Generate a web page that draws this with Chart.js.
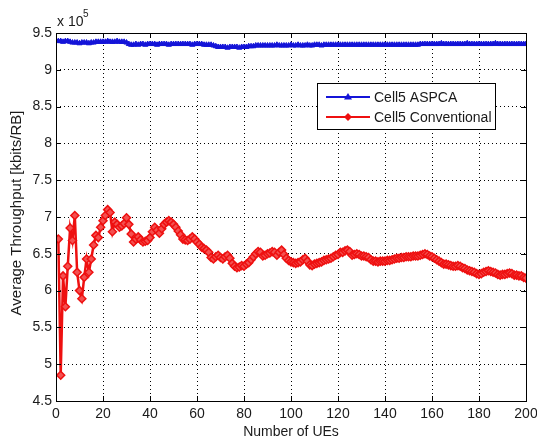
<!DOCTYPE html>
<html>
<head>
<meta charset="utf-8">
<script src="https://cdn.jsdelivr.net/npm/chart.js@4"></script>
<style>
  html, body { margin: 0; padding: 0; background: #fff; }
  canvas { display: block; }
</style>
</head>
<body>
<canvas id="chartContainer" width="537" height="443"></canvas>
<script>
"use strict";

// 1: data (values in units of 10^5 kbits/RB)
const ues = Array.from({ length: 200 }, (_, i) => i + 1);

const aspca = [
  9.39, 9.39, 9.38, 9.39, 9.39, 9.38, 9.37, 9.37, 9.37, 9.36,
  9.37, 9.37, 9.37, 9.36, 9.37, 9.37, 9.38, 9.38, 9.38, 9.38,
  9.38, 9.39, 9.38, 9.38, 9.38, 9.39, 9.38, 9.38, 9.38, 9.37,
  9.35, 9.34, 9.34, 9.35, 9.34, 9.35, 9.35, 9.34, 9.35, 9.35,
  9.35, 9.35, 9.34, 9.35, 9.35, 9.35, 9.35, 9.34, 9.35, 9.35,
  9.35, 9.35, 9.35, 9.35, 9.35, 9.35, 9.35, 9.34, 9.35, 9.35,
  9.35, 9.35, 9.34, 9.34, 9.34, 9.34, 9.33, 9.32, 9.31, 9.31,
  9.31, 9.31, 9.30, 9.31, 9.31, 9.31, 9.31, 9.30, 9.31, 9.31,
  9.31, 9.32, 9.32, 9.32, 9.33, 9.33, 9.33, 9.33, 9.33, 9.33,
  9.33, 9.33, 9.33, 9.34, 9.33, 9.33, 9.33, 9.33, 9.33, 9.34,
  9.33, 9.33, 9.34, 9.33, 9.33, 9.33, 9.34, 9.33, 9.33, 9.34,
  9.34, 9.34, 9.33, 9.34, 9.34, 9.34, 9.34, 9.34, 9.34, 9.34,
  9.34, 9.34, 9.34, 9.34, 9.34, 9.34, 9.34, 9.34, 9.34, 9.34,
  9.34, 9.34, 9.34, 9.34, 9.34, 9.34, 9.34, 9.34, 9.34, 9.34,
  9.34, 9.34, 9.34, 9.34, 9.34, 9.34, 9.34, 9.34, 9.34, 9.34,
  9.34, 9.34, 9.34, 9.34, 9.35, 9.35, 9.35, 9.35, 9.35, 9.35,
  9.35, 9.35, 9.35, 9.36, 9.35, 9.35, 9.35, 9.35, 9.35, 9.35,
  9.35, 9.35, 9.35, 9.35, 9.36, 9.35, 9.35, 9.35, 9.35, 9.35,
  9.35, 9.35, 9.35, 9.35, 9.35, 9.35, 9.36, 9.35, 9.35, 9.35,
  9.35, 9.35, 9.35, 9.35, 9.35, 9.35, 9.35, 9.35, 9.35, 9.35
];

const conventional = [
  6.70, 4.85, 6.20, 5.78, 6.33, 6.85, 6.68, 7.02, 6.25, 6.00,
  5.89, 6.18, 6.43, 6.25, 6.43, 6.62, 6.75, 6.72, 6.86, 6.95,
  7.02, 7.10, 7.06, 6.80, 6.93, 6.90, 6.86, 6.88, 6.91, 6.99,
  6.90, 6.77, 6.66, 6.70, 6.73, 6.69, 6.66, 6.67, 6.68, 6.72,
  6.80, 6.86, 6.82, 6.78, 6.84, 6.90, 6.93, 6.95, 6.93, 6.90,
  6.86, 6.81, 6.76, 6.70, 6.69, 6.68, 6.70, 6.73, 6.70, 6.66,
  6.63, 6.59, 6.57, 6.55, 6.52, 6.45, 6.43, 6.46, 6.48, 6.45,
  6.43, 6.46, 6.48, 6.44, 6.37, 6.33, 6.31, 6.32, 6.34, 6.33,
  6.36, 6.38, 6.42, 6.46, 6.50, 6.53, 6.52, 6.47, 6.48, 6.50,
  6.51, 6.53, 6.52, 6.48, 6.52, 6.55, 6.49, 6.44, 6.41, 6.39,
  6.38, 6.37, 6.38, 6.39, 6.42, 6.44, 6.40, 6.35, 6.34, 6.36,
  6.37, 6.38, 6.39, 6.41, 6.42, 6.43, 6.44, 6.46, 6.48, 6.49,
  6.52, 6.52, 6.54, 6.55, 6.53, 6.48, 6.49, 6.50, 6.49, 6.47,
  6.47, 6.46, 6.45, 6.42, 6.40, 6.40, 6.39, 6.40, 6.40, 6.40,
  6.41, 6.41, 6.42, 6.43, 6.44, 6.44, 6.45, 6.45, 6.46, 6.46,
  6.46, 6.47, 6.47, 6.47, 6.48, 6.49, 6.50, 6.49, 6.47, 6.46,
  6.44, 6.42, 6.40, 6.38, 6.36, 6.36, 6.35, 6.34, 6.33, 6.33,
  6.34, 6.33, 6.31, 6.30, 6.28, 6.27, 6.26, 6.25, 6.23, 6.22,
  6.23, 6.25, 6.26, 6.27, 6.26, 6.25, 6.24, 6.22, 6.21, 6.22,
  6.22, 6.23, 6.24, 6.23, 6.21, 6.21, 6.20, 6.20, 6.18, 6.17
];

const xTicks = [0, 20, 40, 60, 80, 100, 120, 140, 160, 180, 200];
const yTicks = [4.5, 5, 5.5, 6, 6.5, 7, 7.5, 8, 8.5, 9, 9.5];
const yTickLabels = ['4.5', '5', '5.5', '6', '6.5', '7', '7.5', '8', '8.5', '9', '9.5'];

const seriesNames = ['Cell5 ASPCA', 'Cell5 Conventional'];
const blue = '#1414d8';
const red = '#ee1010';
const font = '"Liberation Sans", Arial, sans-serif';
const textColor = '#1a1a1a';

// 2: plugin for the MATLAB look (box, inner ticks, labels, legend)
const matlabDecor = {
  id: 'matlabDecor',
  afterDatasetsDraw(chart) {
    const ctx = chart.ctx;
    const a = chart.chartArea;
    const xs = chart.scales.x;
    const ys = chart.scales.y;
    ctx.save();
    ctx.strokeStyle = '#000';
    ctx.lineWidth = 1;
    ctx.strokeRect(Math.round(a.left) + 0.5, Math.round(a.top) + 0.5,
      Math.round(a.right - a.left), Math.round(a.bottom - a.top));
    ctx.beginPath();
    for (const v of xTicks) {
      const px = Math.round(xs.getPixelForValue(v)) + 0.5;
      ctx.moveTo(px, a.bottom); ctx.lineTo(px, a.bottom - 5);
      ctx.moveTo(px, a.top); ctx.lineTo(px, a.top + 5);
    }
    for (const v of yTicks) {
      const py = Math.round(ys.getPixelForValue(v)) + 0.5;
      ctx.moveTo(a.left, py); ctx.lineTo(a.left + 5, py);
      ctx.moveTo(a.right, py); ctx.lineTo(a.right - 5, py);
    }
    ctx.stroke();

    // exponent label
    ctx.fillStyle = textColor;
    ctx.textBaseline = 'alphabetic';
    ctx.textAlign = 'left';
    ctx.font = '14px ' + font;
    ctx.fillText('x 10', 57, 26);
    ctx.font = '10px ' + font;
    ctx.fillText('5', 83, 17);

    // axis titles
    ctx.font = '14px ' + font;
    ctx.textAlign = 'center';
    ctx.textBaseline = 'middle';
    ctx.fillText('Number of UEs', (a.left + a.right) / 2, 432);
    ctx.save();
    ctx.translate(17, (a.top + a.bottom) / 2 - 4);
    ctx.rotate(-Math.PI / 2);
    ctx.font = '15px ' + font;
    ctx.fillText('Average Throughput [kbits/RB]', 0, 0);
    ctx.restore();

    // legend
    const lx = 317, ly = 83, lw = 178, lh = 46;
    ctx.fillStyle = '#fff';
    ctx.fillRect(lx, ly, lw, lh);
    ctx.strokeStyle = '#000';
    ctx.strokeRect(lx + 0.5, ly + 0.5, lw, lh);
    const rows = [
      { name: seriesNames[0], color: blue, y: ly + 14, marker: 'tri' },
      { name: seriesNames[1], color: red, y: ly + 34, marker: 'dia' }
    ];
    for (const r of rows) {
      ctx.strokeStyle = r.color;
      ctx.lineWidth = 2;
      ctx.beginPath();
      ctx.moveTo(326, r.y); ctx.lineTo(370, r.y);
      ctx.stroke();
      ctx.fillStyle = r.color;
      ctx.beginPath();
      if (r.marker === 'tri') {
        ctx.moveTo(348, r.y - 4); ctx.lineTo(352, r.y + 2.5); ctx.lineTo(344, r.y + 2.5);
      } else {
        ctx.moveTo(348, r.y - 4); ctx.lineTo(352, r.y); ctx.lineTo(348, r.y + 4); ctx.lineTo(344, r.y);
      }
      ctx.closePath();
      ctx.fill();
      ctx.fillStyle = textColor;
      ctx.textAlign = 'left';
      ctx.textBaseline = 'middle';
      ctx.font = '14px ' + font;
      ctx.fillText(r.name, 374, r.y + 1);
    }
    ctx.restore();
  }
};

// 3: create the chart
function appendChart() {
  const chartContainer = document.getElementById('chartContainer');
  new Chart(chartContainer, {
    type: 'line',
    data: {
      datasets: [{
        label: seriesNames[0],
        data: ues.map((u, i) => ({ x: u, y: aspca[i] })),
        borderColor: blue,
        backgroundColor: blue,
        borderWidth: 2,
        pointStyle: 'triangle',
        pointRadius: 3,
        pointBorderWidth: 1,
        pointBackgroundColor: blue,
        pointBorderColor: blue
      },
      {
        label: seriesNames[1],
        data: ues.map((u, i) => ({ x: u, y: conventional[i] })),
        borderColor: red,
        backgroundColor: red,
        borderWidth: 2.5,
        pointStyle: 'rectRot',
        pointRadius: 4,
        pointBorderWidth: 1.5,
        pointBackgroundColor: '#f45050',
        pointBorderColor: red
      }]
    },
    options: {
      responsive: false,
      animation: false,
      layout: { padding: { left: 0, top: 33, right: 11, bottom: 0 } },
      plugins: {
        legend: { display: false },
        tooltip: { enabled: false }
      },
      scales: {
        x: {
          type: 'linear',
          min: 0,
          max: 200,
          afterBuildTicks: (s) => { s.ticks = xTicks.map(v => ({ value: v })); },
          afterFit: (s) => { s.height = 42; s.paddingLeft = 0; s.paddingRight = 0; },
          ticks: { color: textColor, font: { family: font, size: 14 }, padding: 5, maxRotation: 0 },
          grid: { color: '#000', lineWidth: 1, drawTicks: false },
          border: { display: false, dash: [1, 3] }
        },
        y: {
          type: 'linear',
          min: 4.5,
          max: 9.5,
          afterBuildTicks: (s) => { s.ticks = yTicks.map(v => ({ value: v })); },
          afterFit: (s) => { s.width = 56; s.paddingTop = 0; s.paddingBottom = 0; },
          ticks: {
            color: textColor,
            font: { family: font, size: 14 },
            padding: 4,
            callback: (v) => yTickLabels[yTicks.indexOf(v)]
          },
          grid: { color: '#000', lineWidth: 1, drawTicks: false },
          border: { display: false, dash: [1, 3] }
        }
      }
    },
    plugins: [matlabDecor]
  });
}

appendChart();
</script>
</body>
</html>
